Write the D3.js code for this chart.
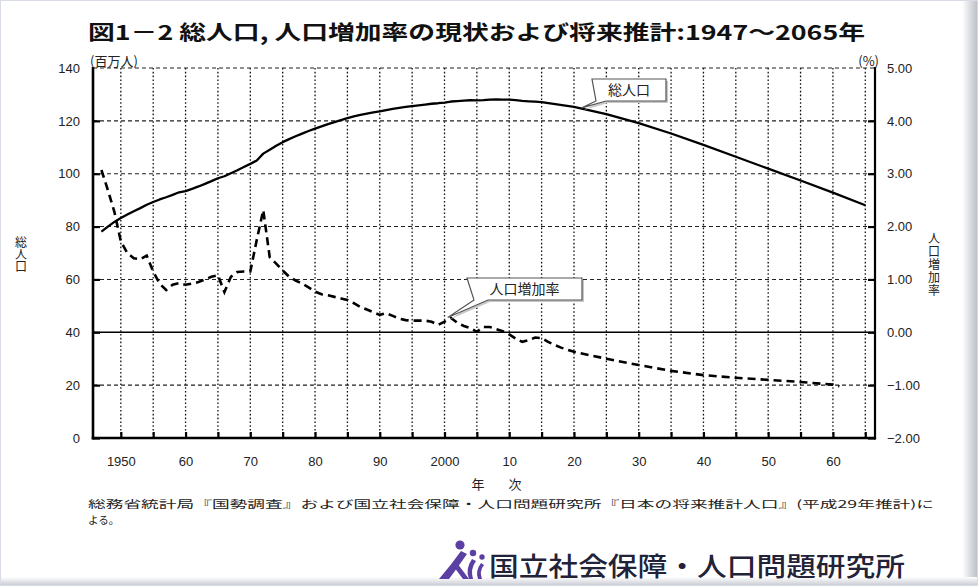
<!DOCTYPE html>
<html><head><meta charset="utf-8">
<script src="https://cdn.jsdelivr.net/npm/d3@7"></script>
<style>body{margin:0;background:#fff}svg{display:block}.vt{writing-mode:vertical-rl;text-orientation:upright}</style>
</head><body><svg id="c" width="978" height="586"></svg>
<script>
// ---- data ----
const popYears=[1947,1948,1949,1950,1951,1952,1953,1954,1955,1956,1957,1958,1959,1960,1961,1962,1963,1964,1965,1966,1967,1968,1969,1970,1971,1972,1973,1974,1975,1976,1977,1978,1979,1980,1981,1982,1983,1984,1985,1986,1987,1988,1989,1990,1991,1992,1993,1994,1995,1996,1997,1998,1999,2000,2001,2002,2003,2004,2005,2006,2007,2008,2009,2010,2011,2012,2013,2014,2015,2020,2025,2030,2035,2040,2045,2050,2055,2060,2065];
const popValues=[78.10,80.00,81.77,83.20,84.54,85.81,86.98,88.24,89.28,90.26,91.09,92.01,92.97,93.42,94.29,95.18,96.16,97.18,98.28,99.04,100.20,101.33,102.54,103.72,105.01,107.60,109.10,110.57,111.94,113.09,114.15,115.19,116.16,117.06,117.90,118.73,119.54,120.31,121.05,121.66,122.24,122.75,123.21,123.61,124.10,124.57,124.94,125.27,125.57,125.86,126.17,126.47,126.67,126.93,127.32,127.49,127.69,127.79,127.77,127.85,128.03,128.08,128.03,128.06,127.83,127.59,127.41,127.24,127.09,125.33,122.54,119.13,115.22,110.92,106.42,101.92,97.44,92.84,88.08];
const rateYears=[1947,1948,1949,1950,1951,1952,1953,1954,1955,1956,1957,1958,1959,1960,1961,1962,1963,1964,1965,1966,1967,1968,1969,1970,1971,1972,1973,1974,1975,1976,1977,1978,1979,1980,1981,1982,1983,1984,1985,1986,1987,1988,1989,1990,1991,1992,1993,1994,1995,1996,1997,1998,1999,2000,2001,2002,2003,2004,2005,2006,2007,2008,2009,2010,2011,2012,2013,2014,2015,2016,2017,2018,2019,2020,2025,2030,2035,2040,2045,2050,2055,2060,2061];
const rateValues=[3.07,2.69,2.28,1.72,1.50,1.40,1.38,1.45,1.15,0.92,0.80,0.90,0.93,0.90,0.92,0.95,1.00,1.05,1.08,0.76,1.05,1.14,1.15,1.15,1.75,2.31,1.42,1.30,1.17,1.05,0.98,0.92,0.85,0.77,0.72,0.70,0.67,0.64,0.61,0.55,0.48,0.43,0.38,0.33,0.36,0.31,0.26,0.23,0.22,0.22,0.22,0.20,0.14,0.20,0.27,0.18,0.12,0.08,0.01,0.10,0.10,0.06,0.02,-0.04,-0.12,-0.18,-0.15,-0.10,-0.11,-0.18,-0.24,-0.29,-0.33,-0.37,-0.50,-0.62,-0.73,-0.81,-0.86,-0.90,-0.94,-0.99,-1.02];
const leftTicks=[0,20,40,60,80,100,120,140];
const rightTicks=[-2,-1,0,1,2,3,4,5];
const xLabelYears=[1950,1960,1970,1980,1990,2000,2010,2020,2030,2040,2050,2060];
const xLabels=["1950","60","70","80","90","2000","10","20","30","40","50","60"];
const gridYears=d3.range(1950,2066,5);
const dashedGrid=[20,60,80,100,120,140];

const title="図1－2 総人口, 人口増加率の現状および将来推計:1947～2065年";
const leftUnit="(百万人)", rightUnit="(%)";
const leftLabel="総人口", rightLabel="人口増加率";
const xTitle1="年", xTitle2="次";
const note1="総務省統計局『国勢調査』および国立社会保障・人口問題研究所『日本の将来推計人口』(平成29年推計)に";
const note2="よる。";
const popLabel="総人口", rateLabel="人口増加率";
const org="国立社会保障・人口問題研究所";

// ---- drawing ----
const svg=d3.select("#c");
const JP="'Noto Sans CJK JP','Noto Sans',sans-serif";
const NUM="'Liberation Sans',Arial,sans-serif";

// frame
const defs=svg.append("defs");
const gr=defs.append("linearGradient").attr("id","gr").attr("x1","0").attr("x2","1");
gr.append("stop").attr("offset","0").attr("stop-color","#fff");
gr.append("stop").attr("offset","1").attr("stop-color","#b8bcc4");
const gb=defs.append("linearGradient").attr("id","gb").attr("x1","0").attr("x2","0").attr("y1","0").attr("y2","1");
gb.append("stop").attr("offset","0").attr("stop-color","#fff");
gb.append("stop").attr("offset","1").attr("stop-color","#c4c8d0");
svg.append("rect").attr("x",0).attr("y",0).attr("width",978).attr("height",586).attr("fill","#fff");
svg.append("rect").attr("x",962).attr("y",0).attr("width",16).attr("height",586).attr("fill","url(#gr)");
svg.append("rect").attr("x",0).attr("y",577).attr("width",978).attr("height",9).attr("fill","url(#gb)");
svg.append("rect").attr("x",0.5).attr("y",0.5).attr("width",977).attr("height",585).attr("fill","none").attr("stroke","#d8dce4");

const x=d3.scaleLinear().domain([1945.7,2066.5]).range([93,875]);
const yL=d3.scaleLinear().domain([0,140]).range([438,68]);
const yR=d3.scaleLinear().domain([-2,5]).range([438,68]);

// grid
svg.append("g").selectAll("line").data(gridYears).join("line")
  .attr("x1",d=>x(d)).attr("x2",d=>x(d)).attr("y1",yL(140)).attr("y2",yL(0))
  .attr("stroke","#111").attr("stroke-width",1.3).attr("stroke-dasharray","1.6,2.2");
svg.append("g").selectAll("line").data(dashedGrid).join("line")
  .attr("x1",x.range()[0]).attr("x2",x.range()[1]).attr("y1",d=>yL(d)).attr("y2",d=>yL(d))
  .attr("stroke","#222").attr("stroke-width",1.1).attr("stroke-dasharray","4,3");
svg.append("line").attr("x1",x.range()[0]).attr("x2",x.range()[1]).attr("y1",yR(0)).attr("y2",yR(0))
  .attr("stroke","#000").attr("stroke-width",1.6);

// axes
const axL=svg.append("g").attr("transform",`translate(${x.range()[0]},0)`)
  .call(d3.axisLeft(yL).tickValues(leftTicks).tickSize(-7).tickPadding(13));
const axR=svg.append("g").attr("transform",`translate(${x.range()[1]},0)`)
  .call(d3.axisRight(yR).tickValues(rightTicks).tickSize(-7).tickPadding(12).tickFormat(d3.format(".2f")));
const axB=svg.append("g").attr("transform",`translate(0,${yL(0)})`)
  .call(d3.axisBottom(x).tickValues(xLabelYears).tickSize(0).tickPadding(19).tickFormat((d,i)=>xLabels[i]));
const axB2=svg.append("g").attr("transform",`translate(0,${yL(0)})`)
  .call(d3.axisBottom(x).tickValues(gridYears).tickSize(-6).tickFormat(""));
[axL,axR,axB,axB2].forEach(a=>{a.select(".domain").remove();
  a.selectAll(".tick line").attr("stroke","#000").attr("stroke-width",2.2);
  a.selectAll("text").attr("font-family",NUM).attr("font-size",13).attr("fill","#222");});
axL.select(".tick:last-of-type line").remove();
axR.select(".tick:last-of-type line").remove();
// axis lines
svg.append("line").attr("x1",x.range()[0]).attr("x2",x.range()[0]).attr("y1",yL(140)-1).attr("y2",yL(0)+1.5).attr("stroke","#000").attr("stroke-width",2.6);
svg.append("line").attr("x1",x.range()[1]).attr("x2",x.range()[1]).attr("y1",yL(140)-1).attr("y2",yL(0)+1.5).attr("stroke","#000").attr("stroke-width",2.2);
svg.append("line").attr("x1",x.range()[0]-1.3).attr("x2",x.range()[1]+1.1).attr("y1",yL(0)).attr("y2",yL(0)).attr("stroke","#000").attr("stroke-width",2.6);

// series
const popData=popYears.map((d,i)=>[d,popValues[i]]);
const rateData=rateYears.map((d,i)=>[d,rateValues[i]]);
svg.append("path").datum(popData)
  .attr("d",d3.line().x(d=>x(d[0])).y(d=>yL(d[1])))
  .attr("fill","none").attr("stroke","#000").attr("stroke-width",2.3).attr("stroke-linejoin","round");
svg.append("path").datum(rateData)
  .attr("d",d3.line().x(d=>x(d[0])).y(d=>yR(d[1])))
  .attr("fill","none").attr("stroke","#000").attr("stroke-width",2.6).attr("stroke-dasharray","8,5");

// callouts
function callout(bx,by,bw,bh,b1,b2,tx,ty,label){
  const p=`M${bx},${by}H${bx+bw}V${by+bh}H${b2}L${tx},${ty}L${b1},${by+bh}Z`;
  svg.append("path").attr("d",p).attr("transform","translate(2,2)").attr("fill","#c8c8c8");
  svg.append("path").attr("d",p).attr("fill","#fff").attr("stroke","#555").attr("stroke-width",1.2);
  svg.append("text").attr("x",bx+bw/2).attr("y",by+bh/2+5).attr("text-anchor","middle")
    .attr("font-family",JP).attr("font-size",14).attr("fill","#222").text(label);
}
callout(592,79,74,22,596,606,x(2021.2),yL(124.9),popLabel);
callout(467,278,115,22,474,488,x(2000.5),yR(0.28),rateLabel);

// texts
svg.append("text").attr("x",88).attr("y",40).attr("font-family",JP).attr("font-weight",700)
  .attr("font-size",20).attr("fill","#111").attr("textLength",777).attr("lengthAdjust","spacingAndGlyphs").text(title);
svg.append("text").attr("x",90).attr("y",66).attr("font-family",JP).attr("font-size",13).attr("fill","#222").text(leftUnit);
svg.append("text").attr("x",879).attr("y",66).attr("text-anchor","end").attr("font-family",JP).attr("font-size",13).attr("fill","#222").text(rightUnit);

svg.append("text").attr("class","vt").attr("x",21).attr("y",236).attr("font-family",JP).attr("font-size",12)
  .attr("fill","#222").text(leftLabel);
svg.append("text").attr("class","vt").attr("x",934).attr("y",232).attr("font-family",JP).attr("font-size",12)
  .attr("letter-spacing",1).attr("fill","#222").text(rightLabel);

svg.append("text").attr("x",478).attr("y",489).attr("text-anchor","middle").attr("font-family",JP).attr("font-size",13).attr("fill","#222").text(xTitle1);
svg.append("text").attr("x",515).attr("y",489).attr("text-anchor","middle").attr("font-family",JP).attr("font-size",13).attr("fill","#222").text(xTitle2);
svg.append("text").attr("x",88).attr("y",508).attr("font-family",JP).attr("font-size",10.5).attr("fill","#222").attr("textLength",846).attr("lengthAdjust","spacingAndGlyphs").text(note1);
svg.append("text").attr("x",88).attr("y",524).attr("font-family",JP).attr("font-size",10.5).attr("fill","#222").text(note2);

// logo
const lg=svg.append("g").attr("fill","#5b3fa3");
lg.append("circle").attr("cx",460).attr("cy",545).attr("r",4.6);
lg.append("path").attr("d","M439,579 Q451,565 461,551 L467,554 Q458,567 449,579 Z");
lg.append("path").attr("d","M457,563 L469,579 L463,579 L454,567 Z");
lg.append("circle").attr("cx",473).attr("cy",553).attr("r",3.2);
lg.append("path").attr("d","M472,559 Q465,569 469,579 L473,579 Q470,569 476,561 Z");
lg.append("circle").attr("cx",482).attr("cy",557).attr("r",2.7);
lg.append("path").attr("d","M481,563 Q475,571 478,579 L482,579 Q479,571 484,565 Z");
svg.append("text").attr("x",489).attr("y",576).attr("font-family",JP).attr("font-weight",500)
  .attr("font-size",26).attr("fill","#222238").attr("textLength",416).attr("lengthAdjust","spacingAndGlyphs").text(org);
</script></body></html>
